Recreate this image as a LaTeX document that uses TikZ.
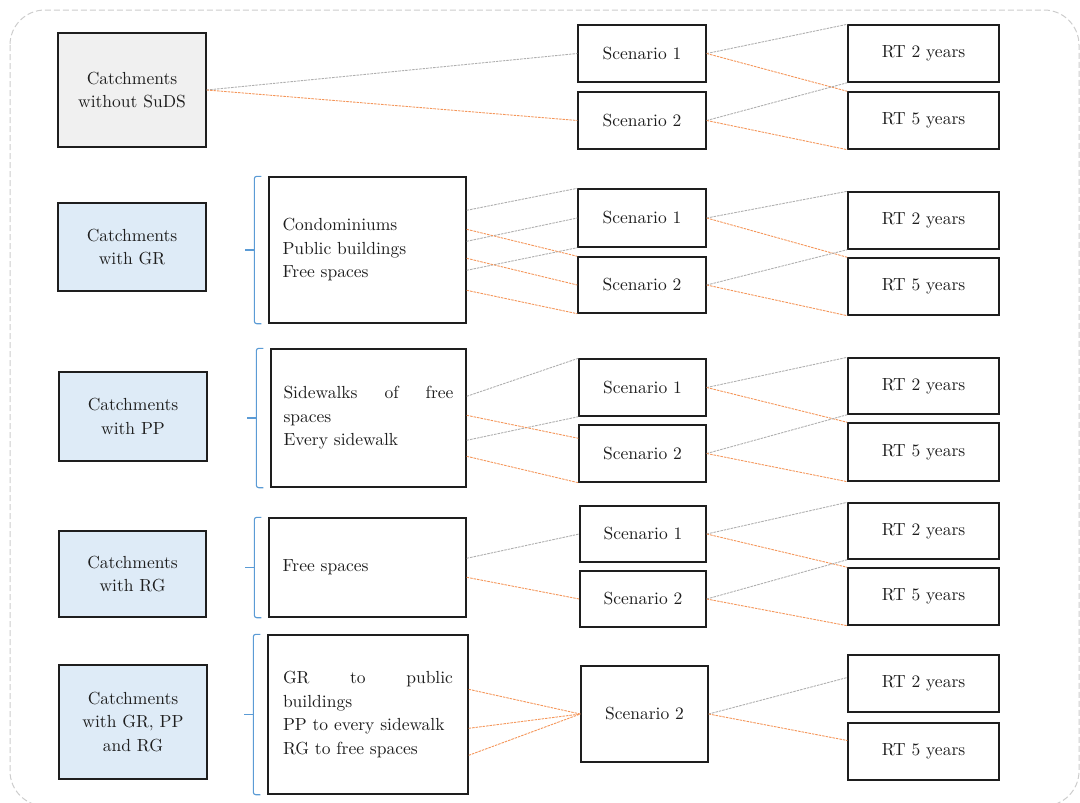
\documentclass[tikz,border=0pt]{standalone}
\usepackage{tikz}
\font\boxfont="[lmroman10-regular]:mapping=tex-text" at 17.5pt
\definecolor{boxgrey}{HTML}{F0F0F0}
\definecolor{boxblue}{HTML}{DEEBF7}
\definecolor{bracecol}{HTML}{5B9BD5}
\definecolor{lineorange}{RGB}{244,150,90}
\definecolor{linegrey}{RGB}{175,175,175}
\definecolor{framegrey}{RGB}{205,205,205}
\definecolor{inkcol}{RGB}{30,30,30}

\begin{document}
\begin{tikzpicture}[x=1pt,y=-1pt,
    every node/.style={font=\fontsize{17.5}{23.5}\selectfont\boxfont, text=inkcol},
    box/.style={draw=inkcol, line width=1.4pt, inner sep=0pt},
    catchbox/.style={box, fill=boxblue, minimum width=148pt, align=center},
    optbox/.style={box, minimum width=197pt, text width=170pt, align=left},
    scenbox/.style={box, minimum width=128pt, minimum height=57pt},
    rtbox/.style={box, minimum width=151pt, minimum height=57pt},
    greyline/.style={linegrey, line width=0.9pt, dash pattern=on 2.5pt off 1pt},
    orangeline/.style={lineorange, line width=0.9pt, dash pattern=on 2.5pt off 1pt},
    brace/.style={bracecol, line width=1.1pt, rounded corners=2.5pt}]
    \useasboundingbox (0,0) rectangle (1080,803);
    % outer frame
    \draw[framegrey, line width=1pt, dash pattern=on 6pt off 3pt, rounded corners=35pt] (10,10) rectangle (1079,806);

    % catchments without SuDS
    \node[catchbox, fill=boxgrey, minimum height=114pt] (c1) at (132,90) {Catchments\\without SuDS};
    \node[scenbox] (s11) at (642,53.5) {Scenario 1};
    \node[scenbox] (s12) at (642,120.5) {Scenario 2};
    \node[rtbox] (r11) at (923.5,53.5) {RT 2 years};
    \node[rtbox] (r12) at (923.5,120.5) {RT 5 years};
    \draw[greyline] (c1.east) -- (s11.west);
    \draw[orangeline] (c1.east) -- (s12.west);

    % catchments with GR
    \node[catchbox, minimum height=88pt] (c2) at (132,247) {Catchments\\with GR};
    \node[optbox, minimum height=146pt] (o2) at (367.5,250) {Condominiums\\Public buildings\\Free spaces};
    \node[scenbox, minimum height=58pt] (s21) at (642,218) {Scenario 1};
    \node[scenbox, minimum height=56pt] (s22) at (642,285) {Scenario 2};
    \node[rtbox] (r21) at (923.5,220.5) {RT 2 years};
    \node[rtbox] (r22) at (923.5,286.5) {RT 5 years};
    \draw[greyline] ([yshift=-34pt]o2.north east) -- (s21.north west);
    \draw[greyline] ([yshift=-65pt]o2.north east) -- (s21.west);
    \draw[greyline] ([yshift=-94pt]o2.north east) -- (s21.south west);
    \draw[orangeline] ([yshift=-53pt]o2.north east) -- (s22.north west);
    \draw[orangeline] ([yshift=-82pt]o2.north east) -- (s22.west);
    \draw[orangeline] ([yshift=-114pt]o2.north east) -- (s22.south west);

    % catchments with PP
    \node[catchbox, minimum height=89pt] (c3) at (133,416.5) {Catchments\\with PP};
    \node[optbox, minimum width=195pt, minimum height=138pt] (o3) at (368.5,418) {\makebox[170pt]{Sidewalks\hfill of\hfill free}\\spaces\\Every sidewalk};
    \node[scenbox, minimum width=127pt] (s31) at (642.5,387.5) {Scenario 1};
    \node[scenbox, minimum width=127pt] (s32) at (642.5,453.5) {Scenario 2};
    \node[rtbox, minimum height=56pt] (r31) at (923.5,386) {RT 2 years};
    \node[rtbox, minimum height=58pt] (r32) at (923.5,452) {RT 5 years};
    \draw[greyline] ([yshift=-48pt]o3.north east) -- (s31.north west);
    \draw[greyline] ([yshift=-92pt]o3.north east) -- (s31.south west);
    \draw[orangeline] ([yshift=-67pt]o3.north east) -- ([yshift=-14pt]s32.north west);
    \draw[orangeline] ([yshift=-108pt]o3.north east) -- (s32.south west);

    % catchments with RG
    \node[catchbox, minimum width=147pt, minimum height=86pt] (c4) at (132.5,574) {Catchments\\with RG};
    \node[optbox, minimum height=99pt] (o4) at (367.5,567.5) {Free spaces};
    \node[scenbox, minimum width=126pt, minimum height=56pt] (s41) at (643,534) {Scenario 1};
    \node[scenbox, minimum width=126pt, minimum height=56pt] (s42) at (643,599) {Scenario 2};
    \node[rtbox, minimum height=56pt] (r41) at (923.5,531) {RT 2 years};
    \node[rtbox] (r42) at (923.5,596.5) {RT 5 years};
    \draw[greyline] ([yshift=-41pt]o4.north east) -- (s41.west);
    \draw[orangeline] ([yshift=-60pt]o4.north east) -- (s42.west);

    % catchments with GR, PP and RG
    \node[catchbox, minimum height=114pt] (c5) at (133,722) {Catchments\\with GR, PP\\and RG};
    \node[optbox, minimum width=200pt, minimum height=159pt] (o5) at (368,714.5) {\makebox[170pt]{GR\hfill to\hfill public}\\buildings\\PP to every sidewalk\\RG to free spaces};
    \node[scenbox, minimum width=127pt, minimum height=96pt] (s52) at (644.5,714) {Scenario 2};
    \node[rtbox] (r51) at (923.5,683.5) {RT 2 years};
    \node[rtbox] (r52) at (923.5,751.5) {RT 5 years};
    \foreach \dy in {55,94,121}
      \draw[orangeline] ([yshift=-\dy pt]o5.north east) -- (s52.west);
    \draw[greyline] (s52.east) -- ([yshift=6pt]r51.west);
    \draw[orangeline] (s52.east) -- ([yshift=11pt]r52.west);

    % scenarios to return periods
    \foreach \i in {1,2,3,4} {
      \draw[greyline] (s\i1.east) -- (r\i1.north west);
      \draw[orangeline] (s\i1.east) -- (r\i2.north west);
      \draw[greyline] (s\i2.east) -- (r\i1.south west);
      \draw[orangeline] (s\i2.east) -- (r\i2.south west);
    }

    % braces
    \foreach \o in {o2,o3,o4,o5} {
      \draw[brace] ([xshift=-7pt]\o.north west) -- ([xshift=-14pt]\o.north west)
        -- ([xshift=-14pt]\o.south west) -- ([xshift=-7pt]\o.south west);
      \draw[bracecol, line width=1.1pt] ([xshift=-14pt]\o.west) -- ([xshift=-23pt]\o.west);
    }
\end{tikzpicture}
\end{document}
